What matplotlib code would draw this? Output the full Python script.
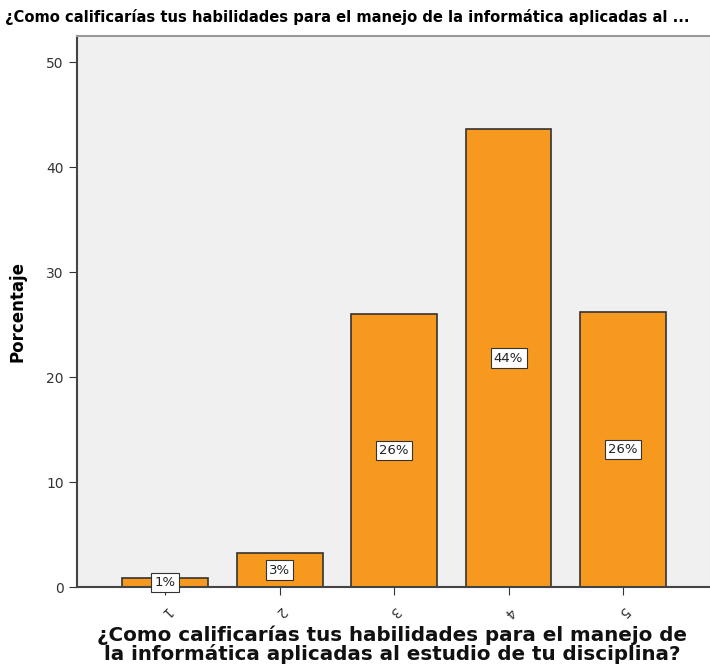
import matplotlib.pyplot as plt

# --- DATA ---
categories = ["1", "2", "3", "4", "5"]
percent = [0.86, 3.24, 26.0, 43.6, 26.2]
bar_labels = ["1%", "3%", "26%", "44%", "26%"]

title = "¿Como calificarías tus habilidades para el manejo de la informática aplicadas al ..."
x_label = "¿Como calificarías tus habilidades para el manejo de\nla informática aplicadas al estudio de tu disciplina?"
y_label = "Porcentaje"

BAR_COLOR = "#f7991f"
BG_COLOR = "#f0f0f0"

fig = plt.figure(figsize=(7.1, 6.66), dpi=100)
ax = fig.add_axes([0.1085, 0.1186, 0.8915, 0.8274])
ax.set_facecolor(BG_COLOR)

x = list(range(1, len(categories) + 1))
bars = ax.bar(x, percent, width=0.75, color=BAR_COLOR, edgecolor="#333333", linewidth=1.2)

# value labels in the middle of each bar
for xi, val, lab in zip(x, percent, bar_labels):
    ax.text(xi, val / 2, lab, ha="center", va="center", fontsize=9.5, color="#222222",
            bbox=dict(boxstyle="square,pad=0.25", facecolor="white", edgecolor="#333333", linewidth=0.8))

ax.set_xlim(0.23, 5.76)
ax.set_ylim(0, 52.5)
ax.set_yticks([0, 10, 20, 30, 40, 50])
ax.set_xticks(x)
ax.set_xticklabels(categories, rotation=225, fontsize=10, color="#333333",
                   ha="center", va="center", rotation_mode="anchor")
ax.tick_params(axis="x", pad=12, length=6, color="#333333")
ax.tick_params(axis="y", labelsize=10, labelcolor="#333333", length=6, color="#333333")

for side in ["left", "bottom"]:
    ax.spines[side].set_color("#444444")
    ax.spines[side].set_linewidth(1.5)
ax.spines["top"].set_color("#999999")
ax.spines["top"].set_linewidth(1.5)
ax.spines["right"].set_visible(False)

ax.set_ylabel(y_label, fontsize=12, fontweight="bold", labelpad=14)
# x title placed in figure coords so both lines fit
fig.text(0.552, 0.0315, x_label, fontsize=14.3, fontweight="bold", ha="center", va="center",
         linespacing=0.95, color="#111111")
fig.text(0.007, 0.974, title, fontsize=10.6, fontweight="bold", ha="left", va="center")

fig.savefig("out.png", dpi=100)
